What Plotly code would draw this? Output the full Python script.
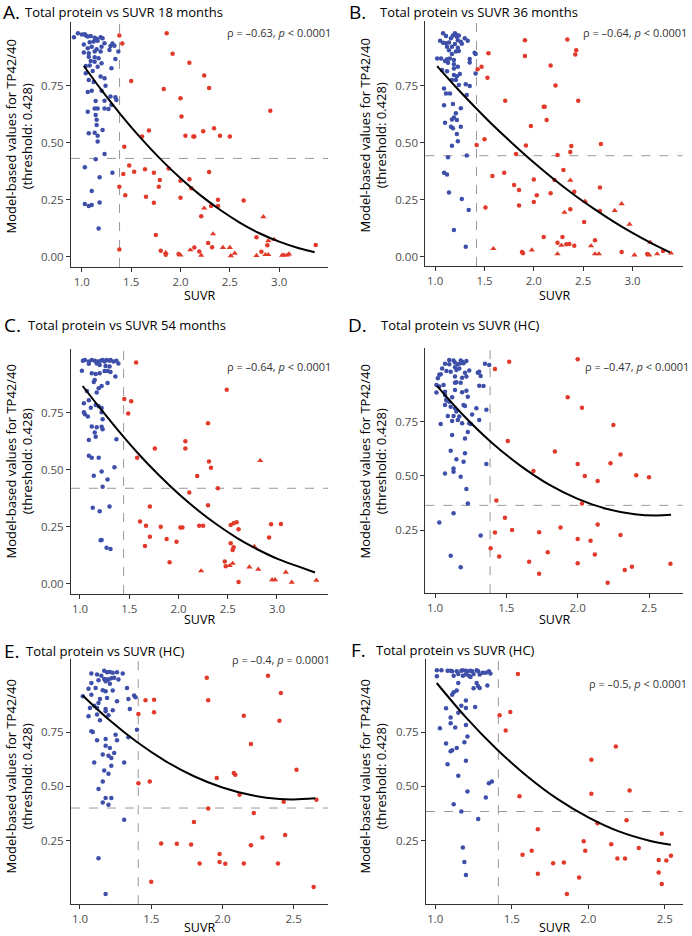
import plotly.graph_objects as go

# ---- data ----

# A. 18 months
a_blue_x = [0.92, 0.96, 1.0, 1.03, 1.04, 1.06, 1.09, 1.13, 1.15, 1.19, 1.21, 1.16, 1.12, 1.08, 1.02, 1.06, 1.10, 1.15, 1.20, 1.23,
            1.29, 1.31, 1.33, 1.02, 1.07, 1.13, 1.19, 1.28, 1.37, 1.07, 1.13, 1.17, 1.09, 1.13, 1.34, 1.04, 1.08, 1.16, 1.20, 1.04,
            1.11, 1.19, 1.23, 1.30, 1.07, 1.12, 1.24, 1.06, 1.10, 1.20, 1.29, 1.34, 1.35, 1.23, 1.14, 1.23, 1.27, 1.30, 1.13, 1.16,
            1.06, 1.14, 1.15, 1.15, 1.21, 1.13, 1.07, 1.16, 1.16, 1.14, 1.23, 1.03, 1.31, 1.18, 1.10, 1.03, 1.07, 1.10, 1.18, 1.17]
a_blue_y = [0.962, 0.98, 0.974, 0.975, 0.97, 0.965, 0.968, 0.96, 0.955, 0.962, 0.958, 0.947, 0.943, 0.94, 0.93, 0.914, 0.92, 0.91, 0.92, 0.936,
            0.924, 0.935, 0.925, 0.895, 0.892, 0.90, 0.90, 0.906, 0.90, 0.877, 0.874, 0.87, 0.858, 0.855, 0.867, 0.836, 0.838, 0.833, 0.848, 0.804,
            0.814, 0.79, 0.782, 0.826, 0.775, 0.766, 0.749, 0.722, 0.728, 0.728, 0.702, 0.699, 0.687, 0.684, 0.683, 0.65, 0.648, 0.665, 0.65, 0.65,
            0.636, 0.621, 0.60, 0.577, 0.556, 0.544, 0.541, 0.53, 0.505, 0.427, 0.45, 0.392, 0.368, 0.348, 0.288, 0.231, 0.222, 0.227, 0.238, 0.124]
a_red_x = [1.38, 1.41, 1.86, 1.92, 2.09, 2.24, 2.29, 2.0, 2.01, 1.83, 1.50, 2.91, 1.68, 1.61, 2.05, 2.13, 2.14, 2.23, 2.34, 2.40,
           2.50, 1.43, 1.48, 1.53, 1.64, 1.73, 1.42, 1.88, 1.79, 2.0, 2.09, 2.29, 1.38, 1.44, 1.65, 1.78, 2.11, 1.73, 2.0, 2.38,
           2.64, 2.31, 2.38, 2.21, 1.75, 1.38, 1.80, 1.85, 1.98, 2.14, 2.19, 2.28, 2.32, 2.77, 2.82, 2.88, 3.37]
a_red_y = [0.97, 0.935, 0.98, 0.89, 0.85, 0.795, 0.74, 0.695, 0.615, 0.735, 0.77, 0.64, 0.553, 0.527, 0.53, 0.527, 0.527, 0.55, 0.563, 0.53,
           0.527, 0.482, 0.40, 0.373, 0.383, 0.368, 0.363, 0.387, 0.336, 0.333, 0.34, 0.371, 0.307, 0.27, 0.263, 0.307, 0.30, 0.237, 0.259, 0.25,
           0.246, 0.222, 0.222, 0.178, 0.095, 0.032, 0.026, 0.009, 0.012, 0.04, 0.023, 0.06, 0.042, 0.085, 0.022, 0.05, 0.051]
a_tri_x = [2.24, 2.84, 1.85, 2.0, 2.10, 2.21, 2.33, 2.43, 2.50, 2.51, 2.55, 2.77, 2.89, 2.95, 2.86, 2.89, 3.03, 3.05, 3.08, 3.10]
a_tri_y = [0.213, 0.175, 0.018, 0.007, 0.03, 0.006, 0.10, 0.04, 0.04, 0.004, 0.015, 0.005, 0.07, 0.076, 0.009, 0.009, 0.006, 0.007, 0.007, 0.012]
a_fit_x = [1.02, 1.2, 1.4, 1.6, 1.8, 2.0, 2.2, 2.4, 2.6, 2.8, 3.0, 3.2, 3.36]
a_fit_y = [0.836, 0.730, 0.620, 0.519, 0.427, 0.344, 0.270, 0.206, 0.150, 0.103, 0.066, 0.037, 0.02]

# B. 36 months
b_blue_x = [1.08, 1.11, 1.05, 1.08, 1.11, 1.20, 1.21, 1.18, 1.22, 1.24, 1.16, 1.23, 1.26, 1.30, 1.33, 1.14, 1.20, 1.27, 1.12, 1.17,
            1.23, 1.14, 1.21, 1.24, 1.17, 1.40, 1.41, 1.35, 1.35, 1.02, 1.06, 1.10, 1.12, 1.13, 1.15, 1.19, 1.19, 1.07, 1.12, 1.19,
            1.23, 1.41, 1.19, 1.22, 1.25, 1.17, 1.21, 1.09, 1.11, 1.15, 1.24, 1.31, 1.35, 1.32, 1.09, 1.18, 1.21, 1.26, 1.19, 1.17,
            1.22, 1.10, 1.16, 1.18, 1.26, 1.22, 1.23, 1.17, 1.13, 1.32, 1.09, 1.12, 1.14, 1.27, 1.34, 1.19, 1.31]
b_blue_y = [0.98, 0.968, 0.947, 0.939, 0.936, 0.98, 0.975, 0.97, 0.965, 0.97, 0.958, 0.95, 0.943, 0.958, 0.947, 0.94, 0.933, 0.934, 0.921, 0.921,
            0.917, 0.906, 0.90, 0.902, 0.889, 0.895, 0.889, 0.867, 0.852, 0.87, 0.87, 0.858, 0.866, 0.851, 0.87, 0.863, 0.844, 0.819, 0.814, 0.826,
            0.833, 0.804, 0.797, 0.792, 0.801, 0.775, 0.775, 0.738, 0.716, 0.716, 0.753, 0.756, 0.749, 0.709, 0.664, 0.67, 0.629, 0.651, 0.611, 0.602,
            0.60, 0.588, 0.57, 0.563, 0.57, 0.538, 0.506, 0.487, 0.436, 0.444, 0.368, 0.36, 0.281, 0.253, 0.205, 0.117, 0.044]
b_red_x = [1.91, 1.91, 2.34, 2.43, 2.42, 1.54, 1.47, 1.43, 1.53, 2.17, 2.22, 1.71, 2.10, 2.11, 2.45, 2.13, 1.97, 1.50, 1.42, 1.92,
           2.38, 2.68, 1.82, 2.24, 2.37, 2.30, 1.70, 1.58, 2.0, 2.21, 1.80, 1.85, 2.17, 2.03, 2.41, 2.67, 2.0, 1.85, 1.51, 2.37,
           2.67, 2.51, 2.10, 2.29, 2.62, 2.24, 2.33, 2.36, 2.41, 1.88, 1.89, 2.89, 3.15, 3.31]
b_red_y = [0.95, 0.88, 0.953, 0.906, 0.887, 0.892, 0.833, 0.822, 0.785, 0.839, 0.751, 0.684, 0.658, 0.658, 0.684, 0.60, 0.573, 0.515, 0.49, 0.488,
           0.485, 0.494, 0.45, 0.446, 0.459, 0.38, 0.368, 0.354, 0.339, 0.336, 0.314, 0.292, 0.278, 0.269, 0.285, 0.303, 0.24, 0.225, 0.216, 0.208,
           0.20, 0.152, 0.086, 0.086, 0.072, 0.061, 0.054, 0.055, 0.048, 0.02, 0.015, 0.02, 0.012, 0.025]
b_tri_x = [2.37, 2.52, 2.31, 2.82, 2.89, 2.97, 2.28, 2.58, 3.18, 1.59, 1.98, 2.24, 2.62, 2.66, 3.02, 3.17, 3.25, 3.39]
b_tri_y = [0.335, 0.243, 0.194, 0.202, 0.232, 0.142, 0.05, 0.047, 0.063, 0.035, 0.029, 0.012, 0.012, 0.012, 0.007, 0.007, 0.012, 0.015]
b_fit_x = [1.02, 1.2, 1.4, 1.6, 1.8, 2.0, 2.2, 2.4, 2.6, 2.8, 3.0, 3.2, 3.38]
b_fit_y = [0.836, 0.749, 0.658, 0.571, 0.490, 0.413, 0.341, 0.274, 0.213, 0.156, 0.104, 0.057, 0.019]

# C. 54 months
c_blue_x = [1.03, 1.05, 1.09, 1.12, 1.15, 1.18, 1.21, 1.23, 1.25, 1.27, 1.30, 1.31, 1.34, 1.37, 1.39, 1.02, 1.09, 1.17, 1.20, 1.26,
            1.30, 1.12, 1.16, 1.20, 1.25, 1.28, 1.31, 1.36, 1.28, 1.15, 1.14, 1.07, 1.17, 1.19, 1.22, 1.04, 1.09, 1.16, 1.19, 1.22,
            1.04, 1.05, 1.08, 1.11, 1.22, 1.23, 1.12, 1.17, 1.15, 1.16, 1.22, 1.23, 1.09, 1.37, 1.09, 1.12, 1.19, 1.35, 1.14, 1.22,
            1.28, 1.23, 1.13, 1.30, 1.20, 1.21, 1.22, 1.27, 1.31]
c_blue_y = [0.977, 0.981, 0.974, 0.981, 0.978, 0.974, 0.978, 0.981, 0.974, 0.981, 0.978, 0.981, 0.974, 0.978, 0.966, 0.934, 0.964, 0.966, 0.959, 0.955,
            0.952, 0.923, 0.92, 0.923, 0.933, 0.933, 0.928, 0.909, 0.88, 0.893, 0.885, 0.845, 0.839, 0.857, 0.867, 0.791, 0.804, 0.784, 0.778, 0.771,
            0.752, 0.743, 0.733, 0.772, 0.752, 0.721, 0.69, 0.686, 0.663, 0.645, 0.688, 0.677, 0.631, 0.634, 0.562, 0.553, 0.553, 0.511, 0.474, 0.492,
            0.458, 0.426, 0.334, 0.339, 0.318, 0.191, 0.193, 0.159, 0.153]
c_red_x = [1.57, 2.49, 1.45, 1.52, 1.49, 2.30, 2.07, 2.07, 1.76, 1.58, 2.31, 2.33, 2.19, 2.40, 2.11, 1.71, 2.30, 1.61, 1.67, 1.82,
           2.02, 2.04, 2.21, 2.25, 2.53, 2.56, 2.59, 2.61, 2.94, 3.04, 1.71, 1.88, 1.98, 2.92, 2.53, 2.55, 2.56, 1.66, 1.91, 2.47,
           2.48, 2.61]
c_red_y = [0.97, 0.85, 0.81, 0.80, 0.747, 0.704, 0.625, 0.593, 0.593, 0.553, 0.536, 0.509, 0.473, 0.419, 0.40, 0.339, 0.345, 0.273, 0.255, 0.25,
           0.247, 0.247, 0.255, 0.255, 0.258, 0.266, 0.27, 0.24, 0.261, 0.263, 0.207, 0.197, 0.185, 0.203, 0.178, 0.149, 0.161, 0.166, 0.095, 0.098,
           0.077, 0.009]
c_tri_x = [2.83, 2.77, 2.52, 2.55, 2.23, 2.72, 2.81, 3.09, 2.95, 2.98, 3.15, 3.40]
c_tri_y = [0.54, 0.164, 0.08, 0.09, 0.057, 0.074, 0.064, 0.051, 0.018, 0.018, 0.007, 0.016]
c_fit_x = [1.027, 1.2, 1.4, 1.6, 1.8, 2.0, 2.2, 2.4, 2.6, 2.8, 3.0, 3.2, 3.386]
c_fit_y = [0.867, 0.772, 0.666, 0.567, 0.477, 0.395, 0.322, 0.257, 0.200, 0.152, 0.111, 0.079, 0.05]

# D. HC
d_blue_x = [1.10, 1.13, 1.18, 1.19, 1.22, 1.07, 1.10, 1.14, 1.16, 1.18, 1.20, 1.35, 1.38, 1.05, 1.08, 1.11, 1.14, 1.15, 1.17, 1.21,
            1.24, 1.30, 1.31, 1.03, 1.02, 1.04, 1.14, 1.19, 1.22, 1.32, 1.18, 1.14, 1.15, 1.06, 1.01, 1.31, 1.34, 1.03, 1.07, 1.14,
            1.19, 1.01, 1.22, 1.07, 1.08, 1.12, 1.23, 1.08, 1.10, 1.07, 1.20, 1.21, 1.11, 1.14, 1.29, 1.36, 1.15, 1.13, 1.09, 1.17,
            1.26, 1.16, 1.12, 1.04, 1.19, 1.24, 1.25, 1.31, 1.23, 1.12, 1.21, 1.11, 1.21, 1.15, 1.20, 1.36, 1.13, 1.13, 1.07, 1.18,
            1.22, 1.23, 1.13, 1.03, 1.32, 1.11, 1.18]
d_blue_y = [1.037, 1.034, 1.034, 1.029, 1.032, 1.019, 1.017, 1.025, 1.017, 1.022, 1.022, 1.019, 1.014, 0.998, 0.986, 0.983, 1.003, 0.991, 0.998, 0.978,
            0.988, 0.978, 0.983, 0.968, 0.952, 0.971, 0.96, 0.955, 0.96, 0.963, 0.932, 0.932, 0.934, 0.921, 0.921, 0.918, 0.917, 0.914, 0.89, 0.898,
            0.887, 0.886, 0.894, 0.875, 0.855, 0.864, 0.867, 0.849, 0.844, 0.829, 0.829, 0.824, 0.821, 0.813, 0.813, 0.806, 0.798, 0.778, 0.778, 0.775,
            0.785, 0.759, 0.755, 0.741, 0.744, 0.744, 0.741, 0.759, 0.704, 0.69, 0.673, 0.617, 0.605, 0.577, 0.566, 0.556, 0.535, 0.52, 0.512, 0.497,
            0.44, 0.373, 0.327, 0.285, 0.224, 0.131, 0.077]
d_red_x = [1.52, 2.0, 1.42, 1.93, 2.03, 2.25, 1.51, 1.84, 2.30, 2.0, 2.23, 1.69, 2.05, 2.14, 2.41, 2.50, 1.43, 2.03, 1.49, 2.14,
           1.88, 1.54, 1.42, 1.73, 2.30, 2.0, 2.09, 1.39, 1.79, 2.12, 1.45, 1.66, 2.0, 2.38, 2.33, 2.65, 1.73, 2.21]
d_red_y = [1.029, 1.04, 0.995, 0.864, 0.816, 0.736, 0.662, 0.613, 0.599, 0.556, 0.559, 0.523, 0.50, 0.477, 0.503, 0.494, 0.386, 0.373, 0.307, 0.276,
           0.262, 0.25, 0.238, 0.239, 0.227, 0.208, 0.20, 0.165, 0.147, 0.137, 0.127, 0.103, 0.096, 0.08, 0.065, 0.094, 0.048, 0.006]
d_tri_x = []
d_tri_y = []
d_fit_x = [1.014, 1.2, 1.4, 1.6, 1.8, 2.0, 2.2, 2.4, 2.55, 2.654]
d_fit_y = [0.917, 0.780, 0.653, 0.547, 0.460, 0.394, 0.348, 0.323, 0.317, 0.320]

# E. HC
e_blue_x = [1.17, 1.19, 1.21, 1.23, 1.26, 1.30, 1.08, 1.12, 1.15, 1.17, 1.19, 1.20, 1.22, 1.24, 1.27, 1.13, 1.08, 1.18, 1.21, 1.06,
            1.11, 1.16, 1.18, 1.23, 1.33, 1.02, 1.08, 1.19, 1.14, 1.26, 1.34, 1.38, 1.39, 1.10, 1.13, 1.12, 1.07, 1.18, 1.18, 1.23,
            1.35, 1.06, 1.12, 1.20, 1.14, 1.40, 1.08, 1.09, 1.25, 1.34, 1.12, 1.18, 1.26, 1.18, 1.21, 1.20, 1.24, 1.16, 1.22, 1.10,
            1.31, 1.22, 1.17, 1.20, 1.16, 1.13, 1.18, 1.22, 1.16, 1.20, 1.31, 1.13, 1.18]
e_blue_y = [1.035, 1.028, 1.029, 1.026, 1.028, 1.022, 1.022, 1.017, 1.012, 0.997, 0.994, 0.994, 1.0, 1.002, 0.994, 0.991, 0.978, 0.986, 0.975, 0.951,
            0.955, 0.944, 0.94, 0.943, 0.955, 0.917, 0.924, 0.909, 0.904, 0.894, 0.904, 0.92, 0.912, 0.873, 0.886, 0.863, 0.863, 0.858, 0.847, 0.852,
            0.858, 0.824, 0.832, 0.829, 0.806, 0.762, 0.755, 0.752, 0.739, 0.727, 0.713, 0.719, 0.713, 0.688, 0.677, 0.642, 0.654, 0.647, 0.631, 0.611,
            0.611, 0.596, 0.573, 0.559, 0.523, 0.488, 0.446, 0.446, 0.426, 0.415, 0.346, 0.168, 0.003]
e_red_x = [2.32, 1.89, 2.41, 1.46, 1.52, 1.90, 1.52, 1.41, 2.15, 2.40, 2.20, 2.52, 2.08, 2.09, 1.96, 1.49, 1.41, 2.12, 2.43, 2.66,
           1.90, 2.22, 1.80, 2.44, 2.28, 1.57, 1.68, 1.78, 2.20, 1.98, 1.98, 2.02, 1.84, 2.15, 2.39, 1.50, 2.64]
e_red_y = [1.012, 1.002, 0.932, 0.898, 0.901, 0.898, 0.843, 0.835, 0.827, 0.804, 0.696, 0.577, 0.562, 0.554, 0.539, 0.523, 0.515, 0.461, 0.429, 0.438,
           0.398, 0.377, 0.335, 0.275, 0.264, 0.236, 0.235, 0.231, 0.228, 0.188, 0.151, 0.142, 0.144, 0.144, 0.144, 0.059, 0.035]
e_tri_x = []
e_tri_y = []
e_fit_x = [1.019, 1.2, 1.4, 1.6, 1.8, 2.0, 2.2, 2.4, 2.5, 2.652]
e_fit_y = [0.92, 0.81, 0.705, 0.617, 0.547, 0.495, 0.46, 0.442, 0.44, 0.445]

# F. HC
f_blue_x = [1.01, 1.04, 1.08, 1.10, 1.11, 1.14, 1.17, 1.18, 1.20, 1.21, 1.23, 1.24, 1.27, 1.28, 1.31, 1.33, 1.35, 1.36, 1.01, 1.12,
            1.15, 1.18, 1.20, 1.22, 1.23, 1.25, 1.29, 1.15, 1.27, 1.28, 1.29, 1.34, 1.25, 1.14, 1.12, 1.11, 1.20, 1.17, 1.26, 1.07,
            1.20, 1.15, 1.10, 1.20, 1.10, 1.03, 1.13, 1.21, 1.14, 1.11, 1.10, 1.07, 1.19, 1.20, 1.08, 1.15, 1.35, 1.37, 1.21, 1.33,
            1.12, 1.17, 1.28, 1.18, 1.19, 1.20]
f_blue_y = [1.037, 1.037, 1.035, 1.035, 1.032, 1.032, 1.035, 1.037, 1.035, 1.032, 1.035, 1.032, 1.037, 1.032, 1.025, 1.025, 1.032, 1.022, 1.009, 1.012,
            1.02, 1.012, 1.017, 1.012, 1.006, 1.02, 1.017, 0.978, 0.978, 0.963, 0.955, 0.966, 0.954, 0.943, 0.935, 0.924, 0.897, 0.873, 0.867, 0.861,
            0.863, 0.84, 0.819, 0.784, 0.792, 0.769, 0.772, 0.731, 0.677, 0.667, 0.662, 0.698, 0.704, 0.619, 0.603, 0.549, 0.515, 0.523, 0.477, 0.449,
            0.418, 0.384, 0.349, 0.218, 0.151, 0.091]
f_red_x = [1.54, 1.42, 1.49, 1.46, 2.18, 2.02, 2.02, 2.27, 1.55, 2.06, 2.25, 1.67, 2.48, 1.97, 2.15, 2.33, 1.63, 1.98, 1.57, 2.54,
           2.19, 2.24, 2.46, 2.51, 1.77, 1.84, 1.67, 2.46, 1.94, 2.48, 1.86]
f_red_y = [1.02, 0.829, 0.844, 0.759, 0.685, 0.623, 0.466, 0.481, 0.454, 0.33, 0.343, 0.302, 0.281, 0.247, 0.233, 0.215, 0.202, 0.202, 0.184, 0.179,
           0.167, 0.167, 0.16, 0.157, 0.145, 0.148, 0.096, 0.102, 0.079, 0.049, 0.003]
f_tri_x = []
f_tri_y = []
f_fit_x = [1.009, 1.2, 1.4, 1.6, 1.8, 2.0, 2.2, 2.4, 2.54]
f_fit_y = [0.978, 0.819, 0.673, 0.547, 0.441, 0.357, 0.292, 0.249, 0.23]

letters = ["A.", "B.", "C.", "D.", "E.", "F."]
titles = ["Total protein vs SUVR 18 months", "Total protein vs SUVR 36 months",
          "Total protein vs SUVR 54 months", "Total protein vs SUVR (HC)",
          "Total protein vs SUVR (HC)", "Total protein vs SUVR (HC)"]
rho_text = ["ρ = –0.63, <i>p</i> &lt; 0.0001", "ρ = –0.64, <i>p</i> &lt; 0.0001",
            "ρ = –0.64, <i>p</i> &lt; 0.0001", "ρ = –0.47, <i>p</i> &lt; 0.0001",
            "ρ = –0.4, <i>p</i> = 0.0001", "ρ = –0.5, <i>p</i> &lt; 0.0001"]
suvr_cut = [1.382, 1.419, 1.443, 1.386, 1.409, 1.412]
tp_cut = [0.431, 0.443, 0.419, 0.364, 0.400, 0.384]
y_title = "Model-based values for TP42/40<br>(threshold: 0.428)"

blue_sets = [(a_blue_x, a_blue_y), (b_blue_x, b_blue_y), (c_blue_x, c_blue_y),
             (d_blue_x, d_blue_y), (e_blue_x, e_blue_y), (f_blue_x, f_blue_y)]
red_sets = [(a_red_x, a_red_y), (b_red_x, b_red_y), (c_red_x, c_red_y),
            (d_red_x, d_red_y), (e_red_x, e_red_y), (f_red_x, f_red_y)]
tri_sets = [(a_tri_x, a_tri_y), (b_tri_x, b_tri_y), (c_tri_x, c_tri_y),
            (d_tri_x, d_tri_y), (e_tri_x, e_tri_y), (f_tri_x, f_tri_y)]
fit_sets = [(a_fit_x, a_fit_y), (b_fit_x, b_fit_y), (c_fit_x, c_fit_y),
            (d_fit_x, d_fit_y), (e_fit_x, e_fit_y), (f_fit_x, f_fit_y)]

# ---- layout geometry (pixels of the 692x936 page) ----
W, H = 692, 936
BLUE = "#3d4fa9"
RED = "#e23a2a"
FONT = "Open Sans"

# left, right, top, bottom of each plotting area
boxes = [(71, 328, 22, 267), (425.3, 682.7, 21, 266),
         (71, 328, 349, 594), (425.3, 682.7, 348.3, 593.3),
         (71, 328, 659, 904.3), (426, 682.7, 659, 904.3)]
x_ranges = [[0.89, 3.495], [0.90, 3.509], [0.909, 3.518], [0.932, 2.736], [0.937, 2.741], [0.939, 2.617]]
y_ranges = [[-0.045, 1.029], [-0.041, 1.034], [-0.044, 1.029], [-0.043, 1.091], [-0.045, 1.089], [-0.045, 1.089]]
x_ticks = [[1.0, 1.5, 2.0, 2.5, 3.0]] * 3 + [[1.0, 1.5, 2.0, 2.5]] * 3
y_ticks = [[0.0, 0.25, 0.5, 0.75]] * 3 + [[0.25, 0.5, 0.75]] * 3

letter_pos = [(1, 12), (347, 12), (2, 325), (346, 325), (2, 651), (349, 650)]
title_pos = [(23, 12), (378, 12), (26, 325), (379, 325), (24, 651), (374, 650)]
rho_pos = [(333, 33), (689, 33), (333, 367), (691, 367), (332, 659), (689, 683)]
ytitle_pos = [(18.5, 137), (372.5, 136), (18.5, 462), (372.5, 462), (18.5, 777), (372.5, 777)]
xtitle_y = [295, 295, 619, 619, 927, 927]


def px(x):
    return x / W


def py(y):
    return 1 - y / H


fig = go.Figure()
annotations = []
shapes = []
layout = {}

for i in range(6):
    n = "" if i == 0 else str(i + 1)
    xa, ya = "x" + n, "y" + n
    left, right, top, bottom = boxes[i]

    layout["xaxis" + n] = dict(
        domain=[px(left), px(right)], range=x_ranges[i], anchor=ya,
        tickvals=x_ticks[i], tickformat=".1f",
        showline=True, linecolor="#333333", linewidth=1,
        ticks="outside", ticklen=4, tickcolor="#333333", tickwidth=1,
        tickfont=dict(family=FONT, size=11.5, color="#4d4d4d"),
        showgrid=False, zeroline=False,
    )
    layout["yaxis" + n] = dict(
        domain=[py(bottom), py(top)], range=y_ranges[i], anchor=xa,
        tickvals=y_ticks[i], tickformat=".2f",
        showline=True, linecolor="#333333", linewidth=1,
        ticks="outside", ticklen=4, tickcolor="#333333", tickwidth=1,
        tickfont=dict(family=FONT, size=11.5, color="#4d4d4d"),
        showgrid=False, zeroline=False,
    )

    # threshold reference lines
    shapes.append(dict(type="line", xref=xa, yref=ya + " domain", x0=suvr_cut[i], x1=suvr_cut[i],
                       y0=0, y1=1, line=dict(color="#7f7f7f", width=0.8, dash="dash"), layer="below"))
    shapes.append(dict(type="line", xref=xa + " domain", yref=ya, x0=0, x1=1, y0=tp_cut[i], y1=tp_cut[i],
                       line=dict(color="#7f7f7f", width=0.8, dash="dash"), layer="below"))

    bx, by = blue_sets[i]
    fig.add_trace(go.Scatter(x=bx, y=by, mode="markers", xaxis=xa, yaxis=ya,
                             marker=dict(color=BLUE, size=4.5, line=dict(width=0)), showlegend=False))
    rx, ry = red_sets[i]
    fig.add_trace(go.Scatter(x=rx, y=ry, mode="markers", xaxis=xa, yaxis=ya,
                             marker=dict(color=RED, size=4.5, line=dict(width=0)), showlegend=False))
    tx, ty = tri_sets[i]
    if tx:
        fig.add_trace(go.Scatter(x=tx, y=ty, mode="markers", xaxis=xa, yaxis=ya,
                                 marker=dict(color=RED, size=5.5, symbol="triangle-up", line=dict(width=0)),
                                 showlegend=False))
    fx, fy = fit_sets[i]
    fig.add_trace(go.Scatter(x=fx, y=fy, mode="lines", xaxis=xa, yaxis=ya,
                             line=dict(color="black", width=2, shape="spline"), showlegend=False))

    # texts
    annotations.append(dict(text=letters[i], x=px(letter_pos[i][0]), y=py(letter_pos[i][1]),
                            xref="paper", yref="paper", xanchor="left", yanchor="middle", showarrow=False,
                            font=dict(family=FONT, size=19, color="black")))
    annotations.append(dict(text=titles[i], x=px(title_pos[i][0]), y=py(title_pos[i][1]),
                            xref="paper", yref="paper", xanchor="left", yanchor="middle", showarrow=False,
                            font=dict(family=FONT, size=13, color="black")))
    annotations.append(dict(text=rho_text[i], x=px(rho_pos[i][0]), y=py(rho_pos[i][1]),
                            xref="paper", yref="paper", xanchor="right", yanchor="middle", showarrow=False,
                            font=dict(family=FONT, size=11, color="#333333")))
    annotations.append(dict(text=y_title, x=px(ytitle_pos[i][0]), y=py(ytitle_pos[i][1]),
                            xref="paper", yref="paper", xanchor="center", yanchor="middle", showarrow=False,
                            textangle=-90, font=dict(family=FONT, size=13, color="black")))
    annotations.append(dict(text="SUVR", x=px((left + right) / 2), y=py(xtitle_y[i]),
                            xref="paper", yref="paper", xanchor="center", yanchor="middle", showarrow=False,
                            font=dict(family=FONT, size=12.5, color="black")))

fig.update_layout(
    width=W, height=H, autosize=False,
    margin=dict(l=0, r=0, t=0, b=0),
    paper_bgcolor="white", plot_bgcolor="white",
    font=dict(family=FONT),
    shapes=shapes, annotations=annotations,
    **layout,
)

# the page's default body margin would push the figure off the window
fig.write_html("out.html", config={"displayModeBar": False},
               post_script="document.body.style.margin='0';document.body.style.overflow='hidden';")
